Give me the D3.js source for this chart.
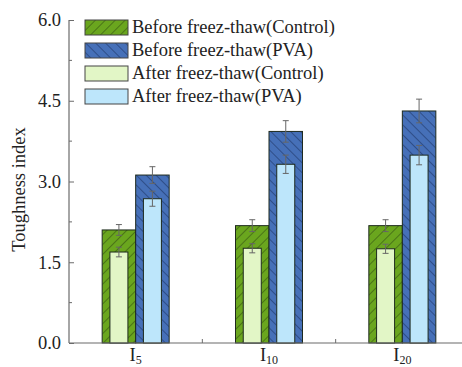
<!DOCTYPE html>
<html>
<head>
<meta charset="utf-8">
<script src="https://cdn.jsdelivr.net/npm/d3@7"></script>
<style>
  body { margin: 0; background: #fff; }
  text { font-family: "Liberation Serif", "Times New Roman", serif; }
</style>
</head>
<body>
<svg width="462" height="367"></svg>
<script>
// Data
const categories = ["I5", "I10", "I20"];
const subscripts = ["5", "10", "20"];
const beforeControl = [2.10, 2.18, 2.18];
const beforeControlErr = [0.10, 0.11, 0.11];
const beforePVA = [3.12, 3.93, 4.31];
const beforePVAErr = [0.155, 0.20, 0.22];
const afterControl = [1.69, 1.76, 1.75];
const afterControlErr = [0.09, 0.085, 0.085];
const afterPVA = [2.68, 3.32, 3.49];
const afterPVAErr = [0.14, 0.17, 0.18];
const yTicks = [0, 1.5, 3.0, 4.5, 6.0];
const yMinorTicks = [0.75, 2.25, 3.75, 5.25];
const legendLabels = ["Before freez-thaw(Control)", "Before freez-thaw(PVA)",
                      "After freez-thaw(Control)", "After freez-thaw(PVA)"];

// SVG setup
const svg = d3.select("svg");
const width = +svg.attr("width");
const height = +svg.attr("height");
const margin = { top: 20, left: 69, bottom: 24 };
const y0 = height - margin.bottom; // pixel of value 0

// Colors
const green = "#6aa61e";
const blue = "#4670b8";
const lightGreen = "#e2f6c6";
const lightBlue = "#bde6fb";
const axisColor = "#6b6b6b";

// Hatch patterns
const defs = svg.append("defs");
function hatch(id, fill, angle, lineColor) {
    const s = 7;
    const p = defs.append("pattern")
                  .attr("id", id)
                  .attr("patternUnits", "userSpaceOnUse")
                  .attr("width", s)
                  .attr("height", s)
                  .attr("patternTransform", `rotate(${angle})`);
    p.append("rect").attr("width", s).attr("height", s).attr("fill", fill);
    p.append("line")
     .attr("x1", 0).attr("y1", 0).attr("x2", 0).attr("y2", s)
     .attr("stroke", lineColor).attr("stroke-width", 1.1);
}
hatch("hatchGreen", green, 45, "#2f4a12");
hatch("hatchBlue", blue, -45, "#1c3160");

// Scales
const xScale = d3.scaleBand()
                 .domain(categories)
                 .range([margin.left, margin.left + 400])
                 .padding(0);
const yScale = d3.scaleLinear()
                 .domain([0, 6])
                 .range([y0, margin.top]);
const barW = 33.5;
const innerW = 18;

// Series description
const series = [
    { vals: beforeControl, errs: beforeControlErr, off: -barW, fill: "url(#hatchGreen)" },
    { vals: beforePVA, errs: beforePVAErr, off: 0, fill: "url(#hatchBlue)" },
    { vals: afterControl, errs: afterControlErr, off: -barW, fill: lightGreen, inner: true },
    { vals: afterPVA, errs: afterPVAErr, off: 0, fill: lightBlue, inner: true }
];

const g = svg.append("g");

series.forEach(s => {
    const w = s.inner ? innerW : barW;
    const shift = s.inner ? (barW - innerW) / 2 : 0;
    g.selectAll(null)
     .data(categories)
     .enter()
     .append("rect")
     .attr("x", d => xScale(d) + xScale.bandwidth() / 2 + s.off + shift)
     .attr("y", (d, i) => yScale(s.vals[i]))
     .attr("width", w)
     .attr("height", (d, i) => y0 - yScale(s.vals[i]))
     .attr("fill", s.fill)
     .attr("stroke", "#1e2a1e")
     .attr("stroke-width", 1);
});

// Error bars
series.forEach(s => {
    categories.forEach((c, i) => {
        const cx = xScale(c) + xScale.bandwidth() / 2 + s.off + barW / 2;
        const top = yScale(s.vals[i] + s.errs[i]);
        const bot = yScale(s.vals[i] - s.errs[i]);
        const eb = g.append("g").attr("stroke", "#666").attr("stroke-width", 1);
        eb.append("line").attr("x1", cx).attr("x2", cx).attr("y1", top).attr("y2", bot);
        eb.append("line").attr("x1", cx - 3).attr("x2", cx + 3).attr("y1", top).attr("y2", top);
        eb.append("line").attr("x1", cx - 3).attr("x2", cx + 3).attr("y1", bot).attr("y2", bot);
    });
});

// Y axis
const yAxis = svg.append("g").attr("transform", `translate(${margin.left},0)`);
yAxis.call(d3.axisRight(yScale).tickValues(yTicks).tickSize(5).tickFormat(d3.format(".1f")));
yAxis.call(a => a.select(".domain").remove());
yAxis.selectAll("text")
     .attr("x", -8)
     .attr("text-anchor", "end")
     .style("font-size", "18.5px")
     .style("font-family", "Liberation Serif")
     .attr("fill", "#222");
yAxis.selectAll("line").attr("stroke", axisColor);
yAxis.selectAll(null)
     .data(yMinorTicks)
     .enter()
     .append("line")
     .attr("x1", 0).attr("x2", 3)
     .attr("y1", d => yScale(d)).attr("y2", d => yScale(d))
     .attr("stroke", axisColor);
svg.append("line")
   .attr("x1", margin.left).attr("x2", margin.left)
   .attr("y1", yScale(6)).attr("y2", y0)
   .attr("stroke", axisColor).attr("stroke-width", 1.2);

// X axis
svg.append("line")
   .attr("x1", margin.left).attr("x2", width)
   .attr("y1", y0).attr("y2", y0)
   .attr("stroke", axisColor).attr("stroke-width", 1.2);
svg.selectAll(null)
   .data(categories.slice(1))
   .enter()
   .append("line")
   .attr("x1", d => xScale(d)).attr("x2", d => xScale(d))
   .attr("y1", y0).attr("y2", y0 - 4)
   .attr("stroke", axisColor);
const xl = svg.selectAll(null)
   .data(categories)
   .enter()
   .append("text")
   .attr("x", d => xScale(d) + xScale.bandwidth() / 2)
   .attr("y", y0 + 18)
   .attr("text-anchor", "middle")
   .attr("fill", "#222")
   .style("font-size", "18.5px");
xl.append("tspan").text("I");
xl.append("tspan")
  .attr("dy", 3)
  .style("font-size", "12px")
  .text((d, i) => subscripts[i]);

// Y title
svg.append("text")
   .attr("transform", `translate(25, ${(yScale(6) + y0) / 2 + 8}) rotate(-90)`)
   .attr("text-anchor", "middle")
   .attr("fill", "#222")
   .style("font-size", "18.5px")
   .text("Toughness index");

// Legend
const legendFills = ["url(#hatchGreen)", "url(#hatchBlue)", lightGreen, lightBlue];
const legend = svg.append("g").attr("transform", "translate(85, 20)");
const items = legend.selectAll(".legend-item")
                    .data(legendLabels)
                    .enter()
                    .append("g")
                    .attr("class", "legend-item")
                    .attr("transform", (d, i) => `translate(0, ${i * 23})`);
items.append("rect")
     .attr("width", 43).attr("height", 15)
     .attr("fill", (d, i) => legendFills[i])
     .attr("stroke", "#444").attr("stroke-width", 1);
items.append("text")
     .attr("x", 47).attr("y", 13)
     .attr("fill", "#222")
     .style("font-size", "18.5px")
     .text(d => d);
</script>
</body>
</html>
